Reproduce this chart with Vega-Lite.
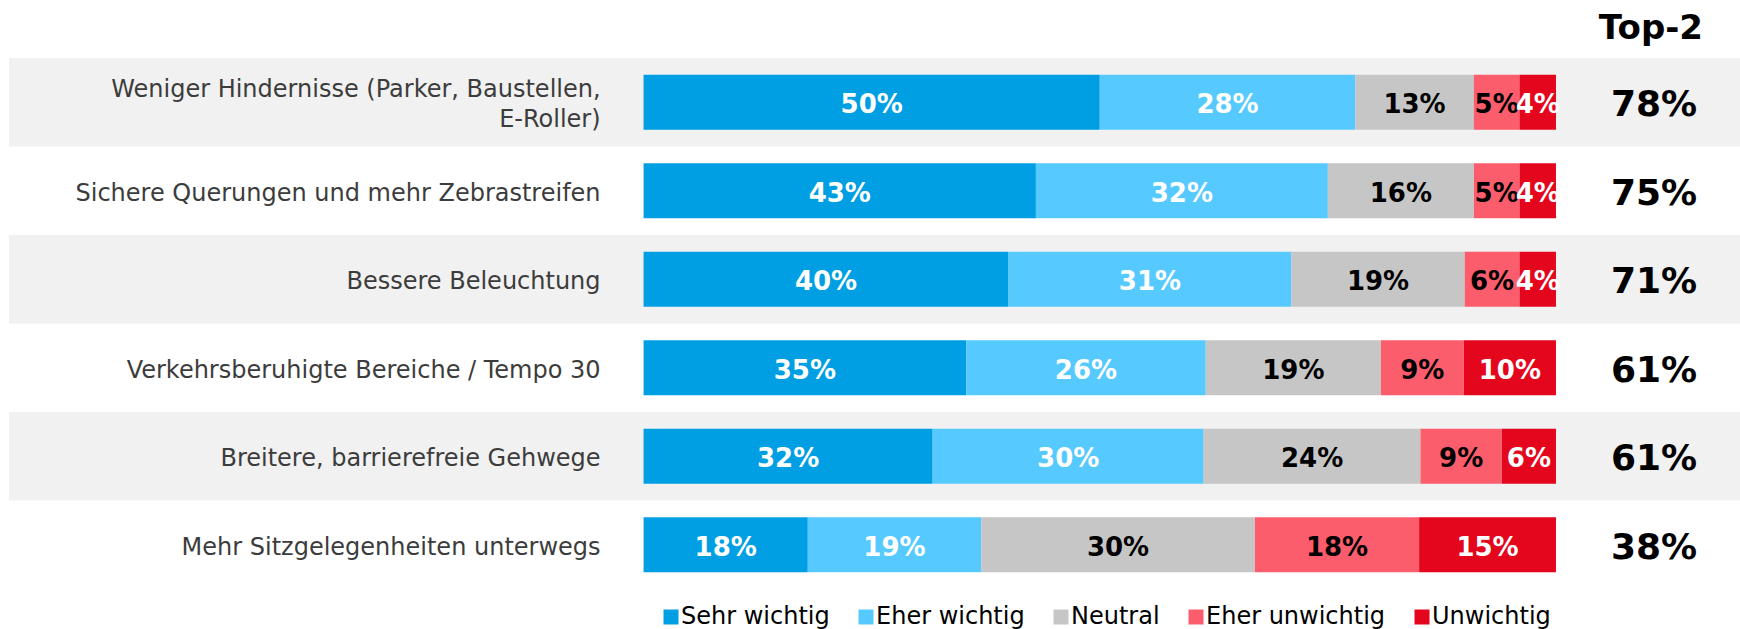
{
  "$schema": "https://vega.github.io/schema/vega-lite/v6.json",
  "width": 1731,
  "height": 531,
  "autosize": {"type": "none"},
  "padding": {"left": 9, "top": 58, "right": 0, "bottom": 40},
  "background": "white",
  "title": {"text": "Top-2", "anchor": "end", "frame": "group", "fontSize": 34, "fontWeight": "bold", "color": "black", "font": "DejaVu Sans", "dx": -37, "offset": 12},
  "config": {"view": {"stroke": null}, "font": "DejaVu Sans"},
  "datasets": {
    "items": [
      {"item": "Weniger Hindernisse (Parker, Baustellen,\nE-Roller)", "top2": 78},
      {"item": "Sichere Querungen und mehr Zebrastreifen", "top2": 75},
      {"item": "Bessere Beleuchtung", "top2": 71},
      {"item": "Verkehrsberuhigte Bereiche / Tempo 30", "top2": 61},
      {"item": "Breitere, barrierefreie Gehwege", "top2": 61},
      {"item": "Mehr Sitzgelegenheiten unterwegs", "top2": 38}
    ],
    "responses": [
      {"item": "Weniger Hindernisse (Parker, Baustellen,\nE-Roller)", "category": "Sehr wichtig", "rank": 1, "value": 50},
      {"item": "Weniger Hindernisse (Parker, Baustellen,\nE-Roller)", "category": "Eher wichtig", "rank": 2, "value": 28},
      {"item": "Weniger Hindernisse (Parker, Baustellen,\nE-Roller)", "category": "Neutral", "rank": 3, "value": 13},
      {"item": "Weniger Hindernisse (Parker, Baustellen,\nE-Roller)", "category": "Eher unwichtig", "rank": 4, "value": 5},
      {"item": "Weniger Hindernisse (Parker, Baustellen,\nE-Roller)", "category": "Unwichtig", "rank": 5, "value": 4},
      {"item": "Sichere Querungen und mehr Zebrastreifen", "category": "Sehr wichtig", "rank": 1, "value": 43},
      {"item": "Sichere Querungen und mehr Zebrastreifen", "category": "Eher wichtig", "rank": 2, "value": 32},
      {"item": "Sichere Querungen und mehr Zebrastreifen", "category": "Neutral", "rank": 3, "value": 16},
      {"item": "Sichere Querungen und mehr Zebrastreifen", "category": "Eher unwichtig", "rank": 4, "value": 5},
      {"item": "Sichere Querungen und mehr Zebrastreifen", "category": "Unwichtig", "rank": 5, "value": 4},
      {"item": "Bessere Beleuchtung", "category": "Sehr wichtig", "rank": 1, "value": 40},
      {"item": "Bessere Beleuchtung", "category": "Eher wichtig", "rank": 2, "value": 31},
      {"item": "Bessere Beleuchtung", "category": "Neutral", "rank": 3, "value": 19},
      {"item": "Bessere Beleuchtung", "category": "Eher unwichtig", "rank": 4, "value": 6},
      {"item": "Bessere Beleuchtung", "category": "Unwichtig", "rank": 5, "value": 4},
      {"item": "Verkehrsberuhigte Bereiche / Tempo 30", "category": "Sehr wichtig", "rank": 1, "value": 35},
      {"item": "Verkehrsberuhigte Bereiche / Tempo 30", "category": "Eher wichtig", "rank": 2, "value": 26},
      {"item": "Verkehrsberuhigte Bereiche / Tempo 30", "category": "Neutral", "rank": 3, "value": 19},
      {"item": "Verkehrsberuhigte Bereiche / Tempo 30", "category": "Eher unwichtig", "rank": 4, "value": 9},
      {"item": "Verkehrsberuhigte Bereiche / Tempo 30", "category": "Unwichtig", "rank": 5, "value": 10},
      {"item": "Breitere, barrierefreie Gehwege", "category": "Sehr wichtig", "rank": 1, "value": 32},
      {"item": "Breitere, barrierefreie Gehwege", "category": "Eher wichtig", "rank": 2, "value": 30},
      {"item": "Breitere, barrierefreie Gehwege", "category": "Neutral", "rank": 3, "value": 24},
      {"item": "Breitere, barrierefreie Gehwege", "category": "Eher unwichtig", "rank": 4, "value": 9},
      {"item": "Breitere, barrierefreie Gehwege", "category": "Unwichtig", "rank": 5, "value": 6},
      {"item": "Mehr Sitzgelegenheiten unterwegs", "category": "Sehr wichtig", "rank": 1, "value": 18},
      {"item": "Mehr Sitzgelegenheiten unterwegs", "category": "Eher wichtig", "rank": 2, "value": 19},
      {"item": "Mehr Sitzgelegenheiten unterwegs", "category": "Neutral", "rank": 3, "value": 30},
      {"item": "Mehr Sitzgelegenheiten unterwegs", "category": "Eher unwichtig", "rank": 4, "value": 18},
      {"item": "Mehr Sitzgelegenheiten unterwegs", "category": "Unwichtig", "rank": 5, "value": 15}
    ]
  },
  "layer": [
    {
      "data": {"name": "items"},
      "transform": [{"filter": {"field": "item", "oneOf": ["Weniger Hindernisse (Parker, Baustellen,\nE-Roller)", "Bessere Beleuchtung", "Breitere, barrierefreie Gehwege"]}}],
      "mark": {"type": "rect", "fill": "#F1F1F1"},
      "encoding": {
        "y": {"field": "item", "type": "nominal", "scale": {"domain": ["Weniger Hindernisse (Parker, Baustellen,\nE-Roller)", "Sichere Querungen und mehr Zebrastreifen", "Bessere Beleuchtung", "Verkehrsberuhigte Bereiche / Tempo 30", "Breitere, barrierefreie Gehwege", "Mehr Sitzgelegenheiten unterwegs"], "paddingInner": 0, "paddingOuter": 0}, "axis": null},
        "x": {"datum": -0.6955, "type": "quantitative", "scale": {"domain": [-0.6955, 1.2017], "nice": false, "zero": false}, "axis": null},
        "x2": {"datum": 1.2017}
      }
    },
    {
      "data": {"name": "items"},
      "transform": [{"filter": {"not": {"field": "item", "equal": "Weniger Hindernisse (Parker, Baustellen,\nE-Roller)"}}}],
      "mark": {"type": "text", "align": "right", "baseline": "middle", "dx": -43, "dy": 3, "fontSize": 24, "color": "#3C3C3C"},
      "encoding": {
        "y": {"field": "item", "type": "nominal"},
        "x": {"datum": 0, "type": "quantitative"},
        "text": {"field": "item", "type": "nominal"}
      }
    },
    {
      "data": {"name": "items"},
      "transform": [{"filter": {"field": "item", "equal": "Weniger Hindernisse (Parker, Baustellen,\nE-Roller)"}}],
      "mark": {"type": "text", "align": "right", "baseline": "middle", "dx": -43, "dy": -12, "fontSize": 24, "color": "#3C3C3C", "lineBreak": "\n", "lineHeight": 30},
      "encoding": {
        "y": {"field": "item", "type": "nominal"},
        "x": {"datum": 0, "type": "quantitative"},
        "text": {"field": "item", "type": "nominal"}
      }
    },
    {
      "data": {"name": "responses"},
      "transform": [
        {"stack": "value", "groupby": ["item"], "sort": [{"field": "rank", "order": "ascending"}], "offset": "normalize", "as": ["v0", "v1"]},
        {"calculate": "(datum.v0 + datum.v1) / 2", "as": "mid"}
      ],
      "layer": [
        {
          "mark": {"type": "bar", "height": {"band": 0.62}},
          "encoding": {
            "y": {"field": "item", "type": "nominal"},
            "x": {"field": "v0", "type": "quantitative"},
            "x2": {"field": "v1"},
            "color": {
              "field": "category",
              "type": "nominal",
              "scale": {
                "domain": ["Sehr wichtig", "Eher wichtig", "Neutral", "Eher unwichtig", "Unwichtig"],
                "range": ["#009FE3", "#56CAFF", "#C6C6C6", "#FC5D6D", "#E3061C"]
              },
              "legend": {
                "orient": "none",
                "legendX": 650,
                "legendY": 547,
                "direction": "horizontal",
                "title": null,
                "symbolType": "square",
                "symbolSize": 225,
                "symbolStrokeWidth": 0,
                "symbolOpacity": 1,
                "labelFontSize": 24,
                "labelFont": "DejaVu Sans",
                "labelColor": "black",
                "labelLimit": 400,
                "labelOffset": -2,
                "columnPadding": 24,
                "padding": 0
              }
            }
          }
        },
        {
          "mark": {"type": "text", "fontSize": 26, "fontWeight": "bold", "baseline": "middle", "align": "center", "dy": 3},
          "encoding": {
            "y": {"field": "item", "type": "nominal"},
            "x": {"field": "mid", "type": "quantitative"},
            "text": {"value": {"expr": "datum.value + '%'"}},
            "color": {
              "condition": {"test": "datum.category == 'Neutral' || datum.category == 'Eher unwichtig'", "value": "black"},
              "value": "white"
            }
          }
        }
      ]
    },
    {
      "data": {"name": "items"},
      "mark": {"type": "text", "fontSize": 36, "fontWeight": "bold", "baseline": "middle", "align": "center", "dx": 98, "dy": 3, "color": "black"},
      "encoding": {
        "y": {"field": "item", "type": "nominal"},
        "x": {"datum": 1, "type": "quantitative"},
        "text": {"value": {"expr": "datum.top2 + '%'"}}
      }
    }
  ]
}
